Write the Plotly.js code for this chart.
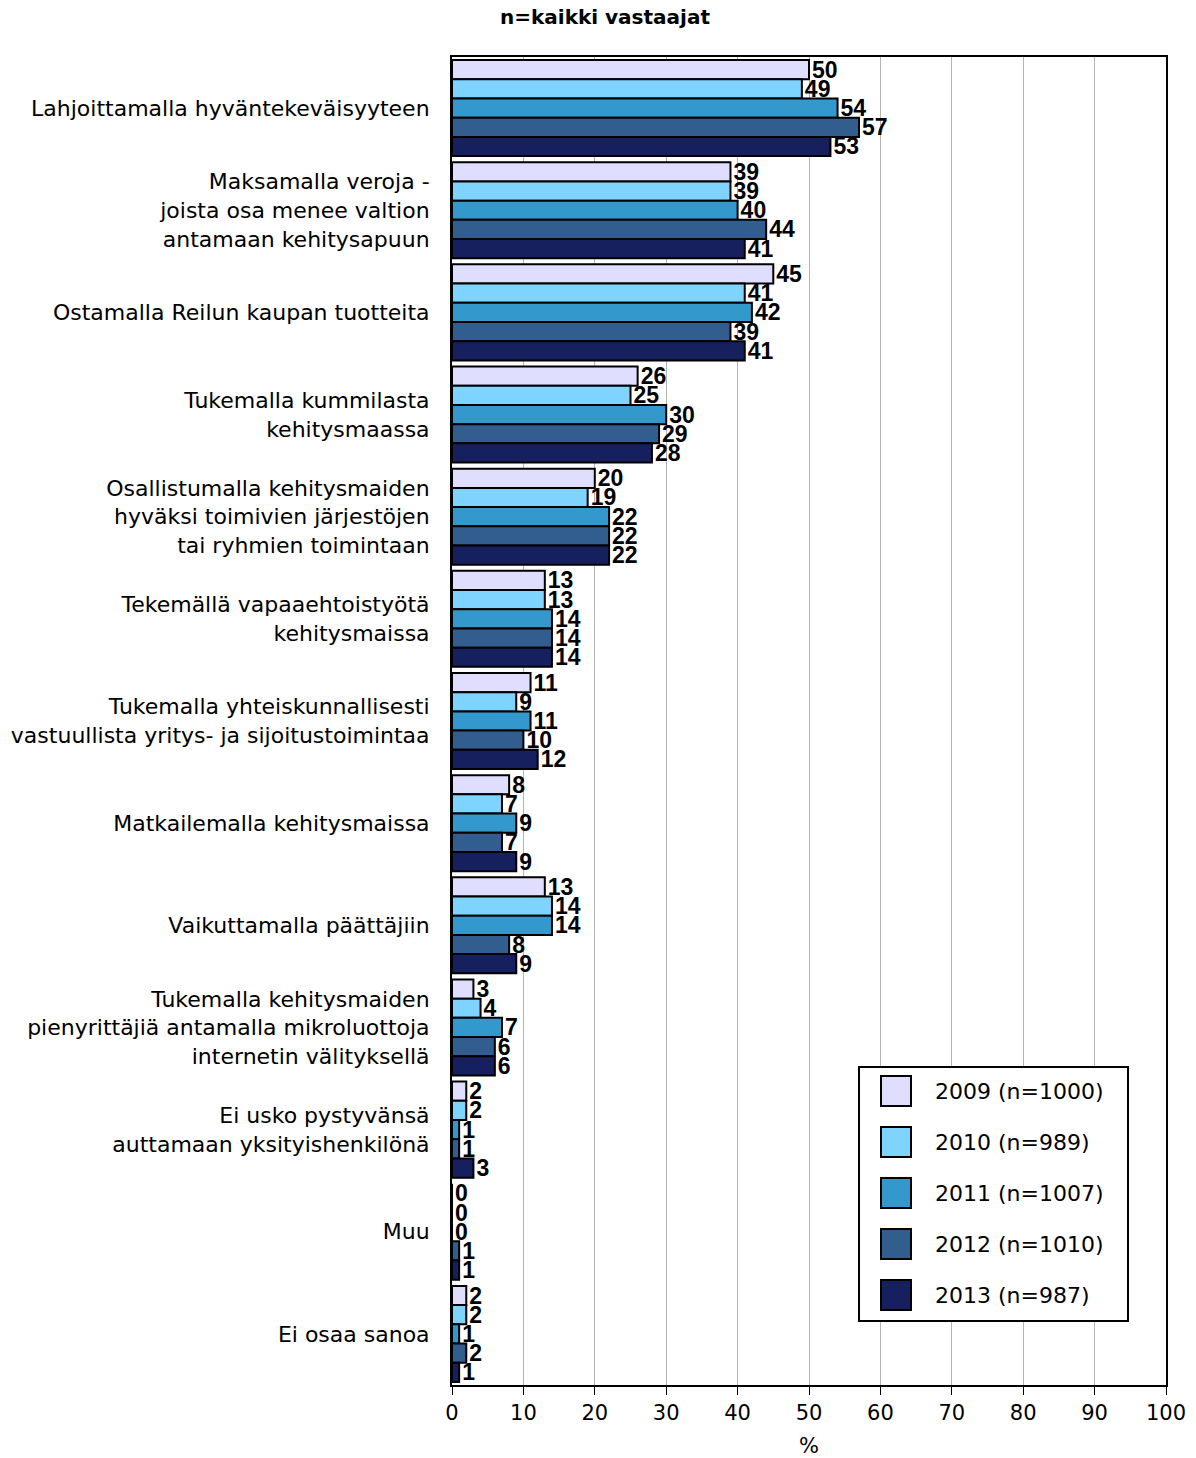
<!DOCTYPE html>
<html>
<head>
<meta charset="utf-8">
<script src="https://cdn.plot.ly/plotly-3.0.1.min.js"></script>
<style>html,body{margin:0;padding:0;background:#fff;}#chart{width:1196px;height:1458px;}</style>
</head>
<body>
<div id="chart"></div>
<script>
const categories = [
  "Lahjoittamalla hyväntekeväisyyteen",
  "Maksamalla veroja -<br>joista osa menee valtion<br>antamaan kehitysapuun",
  "Ostamalla Reilun kaupan tuotteita",
  "Tukemalla kummilasta<br>kehitysmaassa",
  "Osallistumalla kehitysmaiden<br>hyväksi toimivien järjestöjen<br>tai ryhmien toimintaan",
  "Tekemällä vapaaehtoistyötä<br>kehitysmaissa",
  "Tukemalla yhteiskunnallisesti<br>vastuullista yritys- ja sijoitustoimintaa",
  "Matkailemalla kehitysmaissa",
  "Vaikuttamalla päättäjiin",
  "Tukemalla kehitysmaiden<br>pienyrittäjiä antamalla mikroluottoja<br>internetin välityksellä",
  "Ei usko pystyvänsä<br>auttamaan yksityishenkilönä",
  "Muu",
  "Ei osaa sanoa"
];
const seriesNames = ["2009 (n=1000)", "2010 (n=989)", "2011 (n=1007)", "2012 (n=1010)", "2013 (n=987)"];
const v2009 = [50, 39, 45, 26, 20, 13, 11, 8, 13, 3, 2, 0, 2];
const v2010 = [49, 39, 41, 25, 19, 13, 9, 7, 14, 4, 2, 0, 2];
const v2011 = [54, 40, 42, 30, 22, 14, 11, 9, 14, 7, 1, 0, 1];
const v2012 = [57, 44, 39, 29, 22, 14, 10, 7, 8, 6, 1, 1, 2];
const v2013 = [53, 41, 41, 28, 22, 14, 12, 9, 9, 6, 3, 1, 1];
const seriesValues = [v2009, v2010, v2011, v2012, v2013];
const colors = ["#E0DEFF", "#7FD3FF", "#3399CC", "#325D8F", "#17205F"];
const xTicks = [0, 10, 20, 30, 40, 50, 60, 70, 80, 90, 100];
const titleText = "n=kaikki vastaajat";
const xTitle = "%";

const FONT = "'DejaVu Sans', sans-serif";
const BFONT = "Arial, 'Liberation Sans', sans-serif";
const W = 1196, H = 1458;
const L = 452, R = 1166, T = 57, B = 1385;
const px = x => (x - L) / (R - L);
const py = y => (B - y) / (B - T);

const traces = seriesNames.map((name, i) => ({
  type: "bar",
  orientation: "h",
  name: name,
  y: categories,
  x: seriesValues[i],
  marker: {color: colors[i], line: {color: "#000", width: 2}},
  text: seriesValues[i].map(String),
  textposition: "outside",
  textfont: {family: BFONT, size: 23, color: "#000", weight: "bold"},
  constraintext: "none",
  cliponaxis: false,
  showlegend: false,
  hoverinfo: "x+name"
}));

const shapes = [];
const annotations = [];
annotations.push({
  xref: "paper", yref: "paper", x: px(605), y: py(17),
  text: "<b>" + titleText + "</b>", showarrow: false,
  font: {family: FONT, size: 20, color: "#000"}, xanchor: "center", yanchor: "middle"
});
shapes.push({type: "rect", xref: "paper", yref: "paper",
  x0: px(859), x1: px(1128), y0: py(1067), y1: py(1321),
  line: {color: "#000", width: 2}, fillcolor: "#fff", layer: "above"});
seriesNames.forEach((name, i) => {
  const cy = 1091 + i * 51;
  shapes.push({type: "rect", xref: "paper", yref: "paper",
    x0: px(881), x1: px(911), y0: py(cy - 15), y1: py(cy + 15),
    line: {color: "#000", width: 2}, fillcolor: colors[i], layer: "above"});
  annotations.push({xref: "paper", yref: "paper", x: px(933), y: py(cy),
    text: name, showarrow: false, xanchor: "left", yanchor: "middle",
    font: {family: FONT, size: 22, color: "#000"}});
});

const layout = {
  width: W, height: H,
  margin: {l: L, r: W - R, t: T, b: H - B, pad: 0},
  paper_bgcolor: "#fff", plot_bgcolor: "#fff",
  barmode: "group", bargap: 0.06, bargroupgap: 0,
  font: {family: FONT, size: 21, color: "#000"},
  showlegend: false,
  xaxis: {
    range: [0, 100], tickvals: xTicks, ticktext: xTicks.map(String),
    showgrid: true, gridcolor: "#b4b4b4", gridwidth: 1,
    showline: true, linecolor: "#000", linewidth: 2, mirror: true,
    ticks: "outside", ticklen: 8, tickcolor: "#000", tickwidth: 1,
    tickfont: {family: FONT, size: 21, color: "#000"},
    zeroline: false,
    title: {text: xTitle, font: {family: FONT, size: 21, color: "#000"}, standoff: 17},
    fixedrange: true
  },
  yaxis: {
    autorange: "reversed", type: "category",
    showline: true, linecolor: "#000", linewidth: 2, mirror: true,
    showgrid: false, ticks: "", ticklabelstandoff: 16,
    tickfont: {family: FONT, size: 22, color: "#000"},
    fixedrange: true
  },
  shapes: shapes,
  annotations: annotations
};

Plotly.newPlot("chart", traces, layout, {displayModeBar: false, staticPlot: true});
</script>
</body>
</html>
